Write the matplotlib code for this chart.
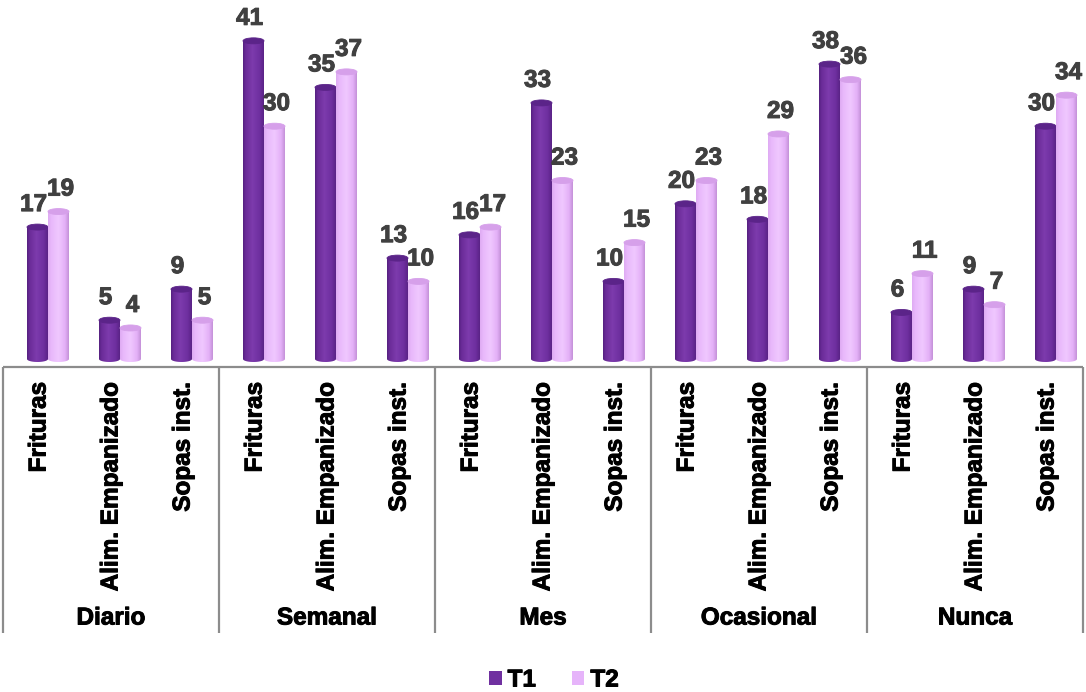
import os
import numpy as np
import matplotlib
matplotlib.use("Agg")
import matplotlib.pyplot as plt
import matplotlib.patheffects as pe
from matplotlib import font_manager
from matplotlib.colors import LinearSegmentedColormap
from matplotlib.patches import Ellipse, Patch
from matplotlib.path import Path
from matplotlib.font_manager import FontProperties

# --- data -------------------------------------------------------------
periods = ["Diario", "Semanal", "Mes", "Ocasional", "Nunca"]
foods = ["Frituras", "Alim. Empanizado", "Sopas inst."]
series_names = ["T1", "T2"]
t1_values = [17, 5, 9, 41, 35, 13, 16, 33, 10, 20, 18, 38, 6, 9, 30]
t2_values = [19, 4, 5, 30, 37, 10, 17, 23, 15, 23, 29, 36, 11, 7, 34]

# --- font: regular-width Liberation Sans Bold (Arial metrics) ---------
bold_file = None
for path in font_manager.findSystemFonts():
    if os.path.basename(path) == "LiberationSans-Bold.ttf":
        bold_file = path
        break
FS = 17.5
if bold_file:
    fp = FontProperties(fname=bold_file, size=FS)
else:
    fp = FontProperties(family="Liberation Sans", weight="bold", size=FS)


def heavy(color):
    # slightly thicker strokes for the heavy bold look
    return [pe.withStroke(linewidth=0.7, foreground=color)]


# --- layout -----------------------------------------------------------
W, H = 1086, 692
fig = plt.figure(figsize=(W / 100, H / 100), dpi=100)
fig.patch.set_facecolor("white")

x_left_px, x_right_px = 3, 1083
axis_px = 367          # y of the category axis line (from top)
base_px = 359          # y of the cylinder base centre
px_per_unit = 7.76
table_bottom_px = 633

n_cat = len(t1_values)
ax = fig.add_axes([x_left_px / W, (H - axis_px) / H,
                   (x_right_px - x_left_px) / W, axis_px / H])
ylo = -(axis_px - base_px) / px_per_unit
yhi = base_px / px_per_unit
ax.axis("off")

bar_w = 21 / 72
depth_off = 9 / 72
ell_h = 6 / px_per_unit

c1 = "#7030A0"
c2 = "#E6B4FA"
cmap1 = LinearSegmentedColormap.from_list(
    "t1", [(0, "#55207f"), (0.12, "#6a2b98"), (0.45, "#7d3bad"),
           (0.8, "#6e2f9f"), (1, "#5a2386")])
cmap2 = LinearSegmentedColormap.from_list(
    "t2", [(0, "#deaaf2"), (0.15, "#e8b8fb"), (0.5, "#f0c8ff"),
           (0.82, "#e3b0f7"), (1, "#c491d8")])
top1 = "#5b2489"
top2 = "#d6a0ea"

grad = np.linspace(0, 1, 128).reshape(1, -1)
theta = np.linspace(np.pi, 2 * np.pi, 40)


def cylinder(x0, value, cmap, topc, z):
    x1 = x0 + bar_w
    xc = (x0 + x1) / 2
    # body outline: left side down, lower half of base ellipse, right side up
    verts = [(x0, value), (x0, 0)]
    verts += [(xc + bar_w / 2 * np.cos(t), ell_h / 2 * np.sin(t)) for t in theta]
    verts += [(x1, value), (x0, value)]
    codes = [Path.MOVETO] + [Path.LINETO] * (len(verts) - 2) + [Path.CLOSEPOLY]
    body = Path(verts, codes)
    im = ax.imshow(grad, cmap=cmap, extent=[x0, x1, -ell_h / 2, value],
                   aspect="auto", origin="lower", interpolation="bilinear",
                   zorder=z)
    im.set_clip_path(body, transform=ax.transData)
    ax.add_patch(Ellipse((xc, value), bar_w, ell_h, facecolor=topc,
                         edgecolor=topc, lw=0.6, zorder=z + 0.5))
    return xc


val_color = "#404040"
label_kw = dict(textcoords="offset pixels", ha="center", va="baseline",
                fontproperties=fp, color=val_color, zorder=10,
                path_effects=heavy(val_color))

pairs = []
for i, (v1, v2) in enumerate(zip(t1_values, t2_values)):
    c = i + 0.5
    xa = cylinder(c + depth_off - bar_w, v1, cmap1, top1, 2)
    xb = cylinder(c + depth_off, v2, cmap2, top2, 4)
    a1 = ax.annotate(str(v1), (xa, v1), xytext=(-4, 16), **label_kw)
    a2 = ax.annotate(str(v2), (xb, v2), xytext=(2, 16), **label_kw)
    pairs.append((a1, a2))

ax.set_xlim(0, n_cat)
ax.set_ylim(ylo, yhi)

# nudge a T2 label to the right when it collides with its T1 neighbour
fig.canvas.draw()
renderer = fig.canvas.get_renderer()
for a1, a2 in pairs:
    b1 = a1.get_window_extent(renderer)
    b2 = a2.get_window_extent(renderer)
    if b1.overlaps(b2):
        shift = b1.x1 - b2.x0 + 1
        ox, oy = a2.xyann
        a2.xyann = (ox + shift, oy)

# --- two-level category table ---------------------------------------
tab = fig.add_axes([x_left_px / W, (H - table_bottom_px) / H,
                    (x_right_px - x_left_px) / W, (table_bottom_px - axis_px) / H])
tab.set_xlim(0, n_cat)
tab.set_ylim(table_bottom_px, axis_px)
tab.axis("off")
line_c = "#8c8c8c"
tab.plot([0, n_cat], [axis_px, axis_px], color=line_c, lw=1.6,
         solid_capstyle="butt", clip_on=False)
for g in range(len(periods) + 1):
    tab.plot([3 * g, 3 * g], [axis_px, table_bottom_px], color=line_c, lw=1.6,
             solid_capstyle="butt", clip_on=False)

for i in range(n_cat):
    tab.text(i + 0.5, 382, foods[i % 3], rotation=90, ha="center", va="top",
             fontproperties=fp, color="black", path_effects=heavy("black"))
for g, name in enumerate(periods):
    tab.text(3 * g + 1.5, 618, name, ha="center", va="center",
             fontproperties=fp, color="black", path_effects=heavy("black"))

# --- legend -----------------------------------------------------------
handles = [Patch(facecolor=c1, edgecolor="none"),
           Patch(facecolor=c2, edgecolor="none")]
leg = fig.legend(handles, series_names, loc="center",
                 bbox_to_anchor=(554 / W, (H - 680) / H), ncol=2, frameon=False,
                 prop=fp, handlelength=0.5, handleheight=0.5,
                 handletextpad=0.25, columnspacing=1.5, borderaxespad=0)
for t in leg.get_texts():
    t.set_path_effects(heavy("black"))

fig.savefig("out.png", dpi=100, facecolor="white")
